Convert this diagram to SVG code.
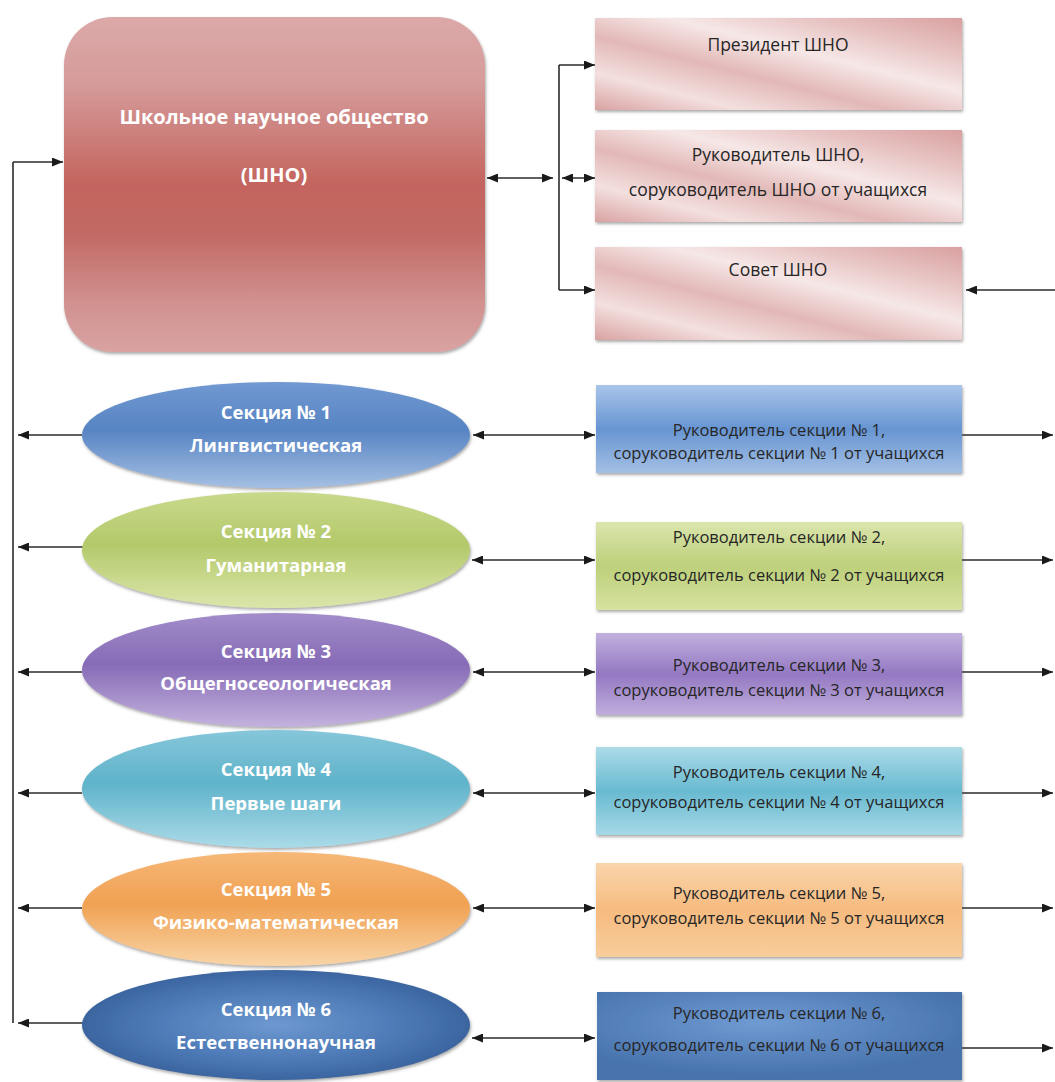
<svg xmlns="http://www.w3.org/2000/svg" width="1055" height="1082" viewBox="0 0 1055 1082">
<defs>
<style>
.c{fill:none;stroke:#2b2b2b;stroke-width:1.6}
.ea{marker-end:url(#ah)}
.da{marker-start:url(#ah);marker-end:url(#ah)}
.tw{font-family:"Open Sans","Liberation Sans",sans-serif;font-weight:bold;fill:#fff;text-anchor:middle}
.td{font-family:"Open Sans","Liberation Sans",sans-serif;fill:#262626;text-anchor:middle}
.sh{filter:url(#ds)}
</style>
<marker id="ah" viewBox="0 0 11 9" refX="11" refY="4.5" markerWidth="11" markerHeight="9" markerUnits="userSpaceOnUse" orient="auto-start-reverse">
<path d="M0,0 L11,4.5 L0,9 z" fill="#1a1a1a"/>
</marker>
<filter id="ds" x="-5%" y="-10%" width="110%" height="130%">
<feDropShadow dx="1" dy="2" stdDeviation="1.5" flood-color="#555" flood-opacity="0.5"/>
</filter>
<linearGradient id="gMain" x1="0" y1="0" x2="0" y2="1">
<stop offset="0" stop-color="#dba9a8"/><stop offset="0.2" stop-color="#d59b9a"/><stop offset="0.5" stop-color="#c4645e"/><stop offset="0.65" stop-color="#c26a65"/><stop offset="0.85" stop-color="#d0918f"/><stop offset="1" stop-color="#d9a3a2"/>
</linearGradient>
<linearGradient id="gPink" x1="0" y1="1" x2="1" y2="0">
<stop offset="0" stop-color="#d9a2a2"/><stop offset="0.2" stop-color="#f3e0df"/><stop offset="0.4" stop-color="#e2b8b7"/><stop offset="0.6" stop-color="#f6e8e7"/><stop offset="0.8" stop-color="#e6c2c1"/><stop offset="1" stop-color="#d9a0a0"/>
</linearGradient>
<linearGradient id="e1" x1="0" y1="0" x2="0" y2="1"><stop offset="0" stop-color="#7199d2"/><stop offset="0.45" stop-color="#5784c3"/><stop offset="1" stop-color="#a4bfe3"/></linearGradient>
<linearGradient id="e2" x1="0" y1="0" x2="0" y2="1"><stop offset="0" stop-color="#c9d98c"/><stop offset="0.45" stop-color="#b3c96a"/><stop offset="1" stop-color="#dbe6ab"/></linearGradient>
<linearGradient id="e3" x1="0" y1="0" x2="0" y2="1"><stop offset="0" stop-color="#a28dca"/><stop offset="0.45" stop-color="#866bb6"/><stop offset="1" stop-color="#c3b2dd"/></linearGradient>
<linearGradient id="e4" x1="0" y1="0" x2="0" y2="1"><stop offset="0" stop-color="#86c6da"/><stop offset="0.45" stop-color="#5fb3ca"/><stop offset="1" stop-color="#abdbe8"/></linearGradient>
<linearGradient id="e5" x1="0" y1="0" x2="0" y2="1"><stop offset="0" stop-color="#f6b878"/><stop offset="0.45" stop-color="#f0a152"/><stop offset="1" stop-color="#f9d4a6"/></linearGradient>
<radialGradient id="e6" cx="0.5" cy="0.5" r="0.5"><stop offset="0" stop-color="#6d98d0"/><stop offset="0.6" stop-color="#4f7cb8"/><stop offset="1" stop-color="#3b65a0"/></radialGradient>
<linearGradient id="b1" x1="0" y1="0" x2="0" y2="1"><stop offset="0" stop-color="#a9c5e9"/><stop offset="0.5" stop-color="#6795d2"/><stop offset="1" stop-color="#a3bfe4"/></linearGradient>
<linearGradient id="b2" x1="0" y1="0" x2="0" y2="1"><stop offset="0" stop-color="#dbe6ad"/><stop offset="0.5" stop-color="#bdd07a"/><stop offset="1" stop-color="#d6e2a0"/></linearGradient>
<linearGradient id="b3" x1="0" y1="0" x2="0" y2="1"><stop offset="0" stop-color="#c1b1de"/><stop offset="0.5" stop-color="#9478c2"/><stop offset="1" stop-color="#bfaedc"/></linearGradient>
<linearGradient id="b4" x1="0" y1="0" x2="0" y2="1"><stop offset="0" stop-color="#acdbe8"/><stop offset="0.5" stop-color="#68bad1"/><stop offset="1" stop-color="#a6d8e6"/></linearGradient>
<linearGradient id="b5" x1="0" y1="0" x2="0" y2="1"><stop offset="0" stop-color="#fad5ac"/><stop offset="0.5" stop-color="#f6bb7f"/><stop offset="1" stop-color="#f8cd9c"/></linearGradient>
<radialGradient id="b6" cx="0.45" cy="0.35" r="0.6"><stop offset="0" stop-color="#6f9ad2"/><stop offset="1" stop-color="#4873ad"/></radialGradient>
</defs>
<rect width="1055" height="1082" fill="#fff"/>

<g id="connectors">
<path class="c" d="M13,1023 V162"/>
<path class="c ea" d="M13,162 H63"/>
<path class="c da" d="M487,178 H553"/>
<path class="c" d="M559,65 V290"/>
<path class="c ea" d="M559,65 H595"/>
<path class="c ea" d="M559,290 H595"/>
<path class="c da" d="M562,178 H595"/>
<path class="c ea" d="M1055,290 H966"/>
<path class="c ea" d="M82,435 H18"/>
<path class="c ea" d="M84,547 H18"/>
<path class="c ea" d="M82,672 H18"/>
<path class="c ea" d="M82,793 H18"/>
<path class="c ea" d="M82,908 H18"/>
<path class="c ea" d="M84,1023 H18"/>
<path class="c da" d="M473,435 H595"/>
<path class="c da" d="M472,560 H595"/>
<path class="c da" d="M473,672 H595"/>
<path class="c da" d="M473,793 H595"/>
<path class="c da" d="M473,908 H595"/>
<path class="c da" d="M472,1038 H595"/>
<path class="c ea" d="M962,435 H1053"/>
<path class="c ea" d="M962,560 H1053"/>
<path class="c ea" d="M962,672 H1053"/>
<path class="c ea" d="M962,793 H1053"/>
<path class="c ea" d="M962,908 H1053"/>
<path class="c ea" d="M962,1048 H1053"/>
</g>

<g id="sno">
<rect class="sh" x="64" y="17" width="421" height="335" rx="48" fill="url(#gMain)"/>
<text class="tw" x="274" y="124" font-size="20" fill="#fdf0f0">Школьное научное общество</text>
<text class="tw" x="274" y="182" font-size="20" fill="#fdf0f0">(ШНО)</text>
</g>

<g id="president">
<rect class="sh" x="595" y="18" width="367" height="92" fill="url(#gPink)"/>
<text class="td" x="778" y="51" font-size="17.5">Президент ШНО</text>
</g>
<g id="head">
<rect class="sh" x="595" y="130" width="367" height="92" fill="url(#gPink)"/>
<text class="td" x="778" y="161" font-size="17.5">Руководитель ШНО,</text>
<text class="td" x="778" y="196" font-size="17.5">соруководитель ШНО от учащихся</text>
</g>
<g id="council">
<rect class="sh" x="595" y="247" width="367" height="93" fill="url(#gPink)"/>
<text class="td" x="778" y="276" font-size="17.5">Совет ШНО</text>
</g>

<g id="sec1">
<ellipse class="sh" cx="276" cy="435" rx="194" ry="53" fill="url(#e1)"/>
<text class="tw" x="276" y="419" font-size="18.5">Секция № 1</text>
<text class="tw" x="276" y="452" font-size="18.5">Лингвистическая</text>
</g>
<g id="sec2">
<ellipse class="sh" cx="276" cy="550" rx="194" ry="58" fill="url(#e2)"/>
<text class="tw" x="276" y="538" font-size="18.5">Секция № 2</text>
<text class="tw" x="276" y="572" font-size="18.5">Гуманитарная</text>
</g>
<g id="sec3">
<ellipse class="sh" cx="276" cy="670" rx="194" ry="57" fill="url(#e3)"/>
<text class="tw" x="276" y="658" font-size="18.5">Секция № 3</text>
<text class="tw" x="276" y="690" font-size="18.5">Общегносеологическая</text>
</g>
<g id="sec4">
<ellipse class="sh" cx="276" cy="789" rx="194" ry="59" fill="url(#e4)"/>
<text class="tw" x="276" y="776" font-size="18.5">Секция № 4</text>
<text class="tw" x="276" y="810" font-size="18.5">Первые шаги</text>
</g>
<g id="sec5">
<ellipse class="sh" cx="276" cy="909" rx="194" ry="57" fill="url(#e5)"/>
<text class="tw" x="276" y="896" font-size="18.5">Секция № 5</text>
<text class="tw" x="276" y="929" font-size="18.5">Физико-математическая</text>
</g>
<g id="sec6">
<ellipse class="sh" cx="276" cy="1025" rx="194" ry="55" fill="url(#e6)"/>
<text class="tw" x="276" y="1016" font-size="18.5">Секция № 6</text>
<text class="tw" x="276" y="1049" font-size="18.5">Естественнонаучная</text>
</g>

<g id="lead1">
<rect class="sh" x="596" y="385" width="366" height="88" fill="url(#b1)"/>
<text class="td" x="779" y="436" font-size="16.5">Руководитель секции № 1,</text>
<text class="td" x="779" y="459" font-size="16.5">соруководитель секции № 1 от учащихся</text>
</g>
<g id="lead2">
<rect class="sh" x="596" y="522" width="366" height="88" fill="url(#b2)"/>
<text class="td" x="779" y="543" font-size="16.5">Руководитель секции № 2,</text>
<text class="td" x="779" y="581" font-size="16.5">соруководитель секции № 2 от учащихся</text>
</g>
<g id="lead3">
<rect class="sh" x="596" y="633" width="366" height="82" fill="url(#b3)"/>
<text class="td" x="779" y="671" font-size="16.5">Руководитель секции № 3,</text>
<text class="td" x="779" y="696" font-size="16.5">соруководитель секции № 3 от учащихся</text>
</g>
<g id="lead4">
<rect class="sh" x="596" y="747" width="366" height="88" fill="url(#b4)"/>
<text class="td" x="779" y="778" font-size="16.5">Руководитель секции № 4,</text>
<text class="td" x="779" y="808" font-size="16.5">соруководитель секции № 4 от учащихся</text>
</g>
<g id="lead5">
<rect class="sh" x="596" y="863" width="366" height="94" fill="url(#b5)"/>
<text class="td" x="779" y="899" font-size="16.5">Руководитель секции № 5,</text>
<text class="td" x="779" y="924" font-size="16.5">соруководитель секции № 5 от учащихся</text>
</g>
<g id="lead6">
<rect class="sh" x="597" y="992" width="365" height="88" fill="url(#b6)"/>
<text class="td" x="779" y="1019" font-size="16.5" fill="#1c2d4d">Руководитель секции № 6,</text>
<text class="td" x="779" y="1051" font-size="16.5" fill="#1c2d4d">соруководитель секции № 6 от учащихся</text>
</g>
</svg>
